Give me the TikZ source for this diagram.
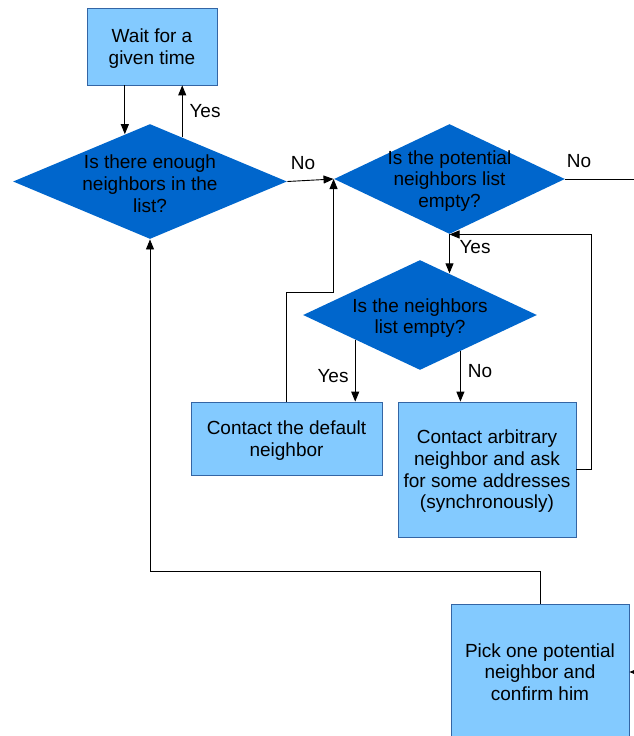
\documentclass[tikz,border=0pt]{standalone}
\usepackage{fontspec}
\setmainfont{Liberation Sans}
\usetikzlibrary{arrows.meta,shapes.geometric}
\definecolor{boxfill}{HTML}{83CAFF}
\definecolor{boxline}{HTML}{3465A4}
\definecolor{decfill}{HTML}{0066CC}
\tikzset{
  task/.style={rectangle, draw=boxline, fill=boxfill, line width=0.8pt, align=center,
    text depth=0pt, font=\fontsize{19}{21.7}\selectfont},
  decision/.style={diamond, fill=decfill, inner sep=0pt},
  dtext/.style={align=center, text depth=0pt, font=\fontsize{19}{21.7}\selectfont},
  lbl/.style={font=\fontsize{19}{21.7}\selectfont}
}

\begin{document}
\begin{tikzpicture}[x=1pt, y=-1pt, >={Triangle[length=10pt,width=8pt]}, line width=0.9pt]
    \clip (0,0) rectangle (634,736);
    \node[task, minimum width=130pt, minimum height=77pt] (wait) at (152,46.5) {Wait for a\\given time};
    \node[decision, minimum width=274pt, minimum height=115pt] (enough) at (150,181.5) {};
    \node[dtext, yshift=-2pt] (enought) at (enough) {Is there enough\\neighbors in the\\list?};
    \node[decision, minimum width=231pt, minimum height=110pt] (potential) at (449.5,179) {};
    \node[dtext] (potentialt) at (potential) {Is the potential\\neighbors list\\empty?};
    \node[decision, minimum width=234pt, minimum height=110pt] (neighbors) at (420,315) {};
    \node[dtext, yshift=-1pt] (neighborst) at (neighbors) {Is the neighbors\\list empty?};
    \node[task, minimum width=191pt, minimum height=73pt] (default) at (286.5,438.5) {Contact the default\\neighbor};
    \node[task, minimum width=178pt, minimum height=135pt] (arbitrary) at (487,469.5) {Contact arbitrary\\neighbor and ask\\for some addresses\\(synchronously)};
    \node[task, minimum width=178pt, minimum height=136pt] (pick) at (540,672) {Pick one potential\\neighbor and\\confirm him};
    \coordinate (offright) at (700,0);

    \draw [->] (wait.south -| enough.118) -- (enough.118);
    \draw [->] (enough.54) -- (enough.54 |- wait.south);
    \draw [->] (enough.east) -- (potential.west);
    \draw [->] (potential.east) -- (potential.east -| offright) |- (pick.east);
    \draw [->] (potential.south) -- (potential.south |- neighbors.55);
    \draw [->] (neighbors.201) -- (neighbors.201 |- default.north);
    \draw [->] (neighbors.318) -- (neighbors.318 |- arbitrary.north);
    \draw [->] (default.north) -- ++(0,-109) -| (potential.west);
    \draw [->] (arbitrary.east) -- ++(15,0) |- (potential.south);
    \draw [->] (pick.north) -- ++(0,-32) -| (enough.south);

    \node[lbl] (yes1) at (205,111) {Yes};
    \node[lbl] (no1) at (303,163) {No};
    \node[lbl] (no2) at (579,161) {No};
    \node[lbl] (yes2) at (475,247) {Yes};
    \node[lbl] (yes3) at (333,376) {Yes};
    \node[lbl] (no3) at (480,371) {No};
\end{tikzpicture}
\end{document}
